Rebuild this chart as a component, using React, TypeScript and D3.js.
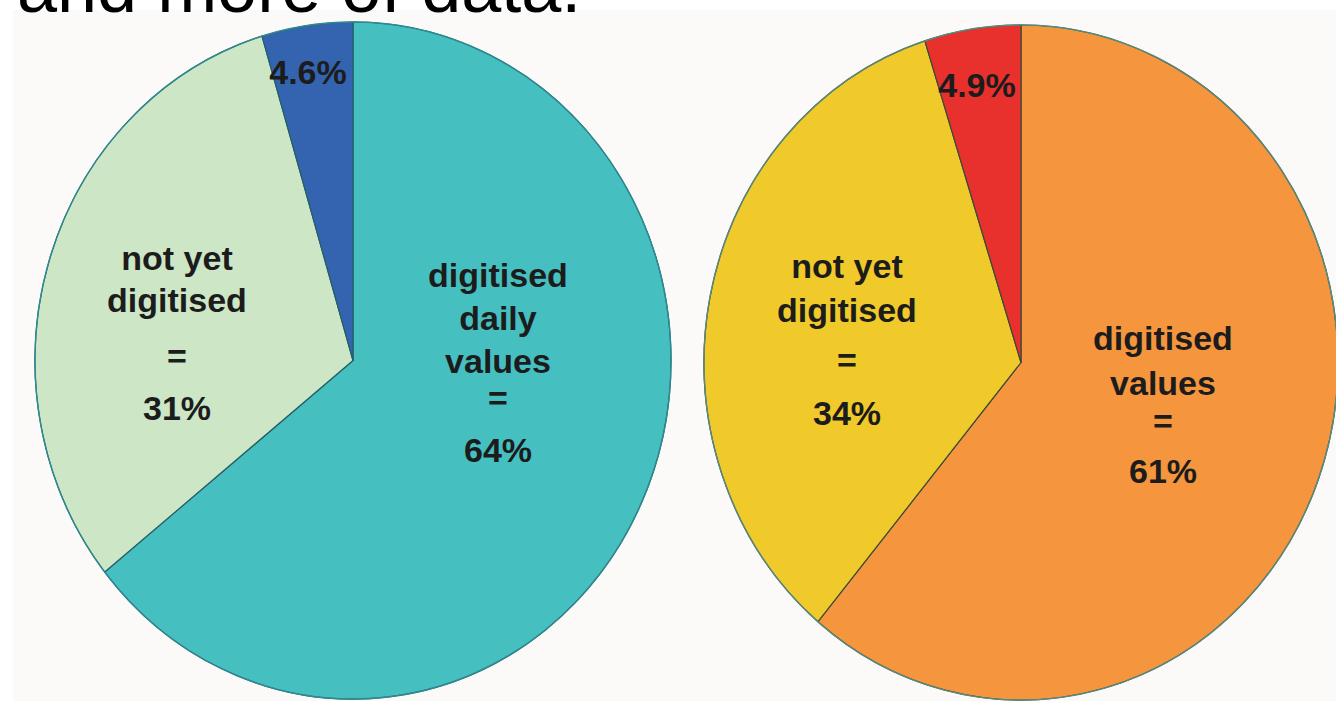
import React from "react";
import * as d3 from "d3";

const leftCategories = ["digitised daily values", "not yet digitised", "remaining"];
const leftValues = [64, 31, 4.6];
const leftColors = ["#46bfc1", "#cce6c6", "#3463b0"];

const rightCategories = ["digitised values", "not yet digitised", "remaining"];
const rightValues = [61, 34, 4.9];
const rightColors = ["#f5963e", "#f0c92a", "#e8302d"];

const leftLabels: { lines: string[]; x: number; ys: number[] }[] = [
  { lines: ["digitised", "daily", "values", "=", "64%"], x: 498, ys: [287, 330, 373, 410, 462] },
  { lines: ["not yet", "digitised", "=", "31%"], x: 177, ys: [270, 312, 368, 420] },
  { lines: ["4.6%"], x: 308, ys: [84] },
];
const rightLabels: { lines: string[]; x: number; ys: number[] }[] = [
  { lines: ["digitised", "values", "=", "61%"], x: 1163, ys: [350, 395, 433, 483] },
  { lines: ["not yet", "digitised", "=", "34%"], x: 847, ys: [278, 322, 372, 425] },
  { lines: ["4.9%"], x: 977, ys: [97] },
];

type PieProps = {
  values: number[];
  colors: string[];
  cx: number;
  cy: number;
  rx: number;
  ry: number;
  stroke: string;
  edge: string;
};

function EllipsePie({ values, colors, cx, cy, rx, ry, stroke, edge }: PieProps) {
  const pie = d3.pie<number>().sort(null).value((d) => d);
  const arcs = pie(values);
  const arc = d3.arc<d3.PieArcDatum<number>>().innerRadius(0).outerRadius(ry);
  return (
    <g transform={`translate(${cx},${cy}) scale(${rx / ry},1)`}>
      {arcs.map((a, i) => (
        <path
          key={i}
          d={arc(a) || ""}
          fill={colors[i]}
          stroke={stroke}
          strokeWidth={1.2}
          strokeLinejoin="round"
          vectorEffect="non-scaling-stroke"
        />
      ))}
      <ellipse cx={0} cy={0} rx={ry} ry={ry} fill="none" stroke={edge} strokeWidth={1.4} vectorEffect="non-scaling-stroke" />
    </g>
  );
}

function Labels({ labels, size }: { labels: { lines: string[]; x: number; ys: number[] }[]; size: number }) {
  return (
    <g fontFamily="'Liberation Sans', Arial, sans-serif" fontWeight="bold" fill="#1c1c1c" textAnchor="middle">
      {labels.map((l, i) =>
        l.lines.map((t, j) => (
          <text key={`${i}-${j}`} x={l.x} y={l.ys[j]} fontSize={l.lines.length === 1 ? 34 : size}>
            {t}
          </text>
        ))
      )}
    </g>
  );
}

export default function App() {
  return (
    <svg
      width={1336}
      height={701}
      style={{ position: "absolute", left: 0, top: 0, display: "block", background: "#ffffff" }}
    >
      <rect x={13} y={10} width={1336} height={701} fill="#fbfaf9" />
      <text x={17} y={12} fontFamily="'Liberation Sans', Arial, sans-serif" fontSize={72} fill="#000000">
        and more of data.
      </text>
      <EllipsePie values={leftValues} colors={leftColors} cx={353} cy={360.5} rx={318} ry={338.5} stroke="#245f66" edge="#2f8a90" />
      <EllipsePie values={rightValues} colors={rightColors} cx={1021} cy={362.5} rx={317} ry={337.5} stroke="#3d4a38" edge="#5a8a7c" />
      <Labels labels={leftLabels} size={34} />
      <Labels labels={rightLabels} size={34} />
    </svg>
  );
}
